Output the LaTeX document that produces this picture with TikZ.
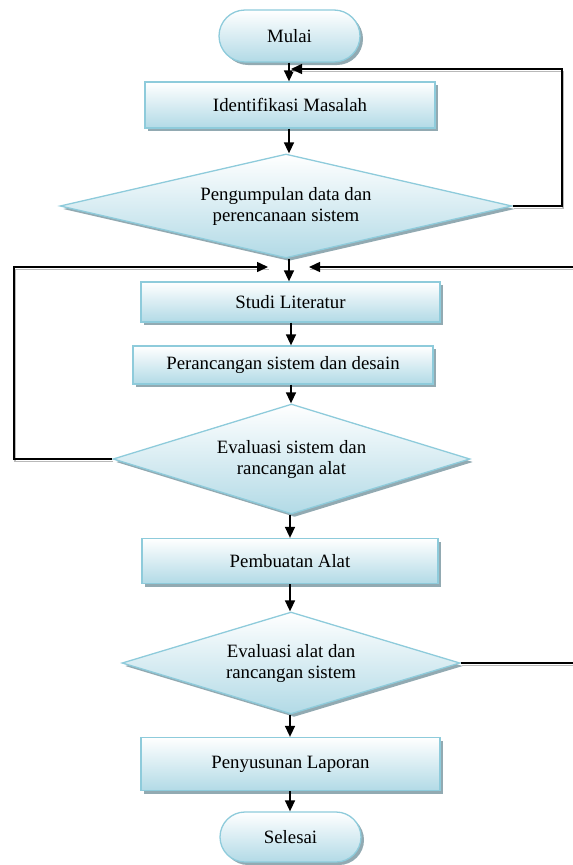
\documentclass[tikz,border=0pt]{standalone}
\usepackage{fontspec}
\setmainfont{Liberation Serif}
\usetikzlibrary{shapes.geometric,shapes.misc,shadows,arrows.meta}
\definecolor{bordc}{HTML}{8ECBDB}
\definecolor{fillb}{HTML}{B2DAE6}
\definecolor{shadc}{HTML}{92AAB2}
\tikzset{
  base/.style={draw=bordc, line width=1.3pt, top color=white, bottom color=fillb,
    font=\fontsize{18.8}{21}\selectfont, align=center, inner sep=0pt,
    general shadow={fill=shadc, shadow xshift=3pt, shadow yshift=-3pt}},
  procbox/.style={base, rectangle},
  termbox/.style={base, rounded rectangle},
  decbox/.style={base, diamond},
  arr/.style={-{Triangle[length=11pt,width=10pt]}, line width=1.5pt, black},
  fb/.style={arr, preaction={draw=gray!55, line width=1.5pt, -, transform canvas={xshift=1pt,yshift=-2.5pt}}}
}
\begin{document}
\begin{tikzpicture}[x=1pt,y=-1pt]
\useasboundingbox (0,0) rectangle (573,865);
\node[termbox, minimum width=141pt, minimum height=52pt] (mulai) at (289.5,36) {Mulai};
\node[procbox, minimum width=290pt, minimum height=46pt] (iden) at (290,105) {Identifikasi Masalah};
\node[decbox, aspect=4.35, minimum width=452pt, minimum height=104pt] (d1) at (286,206) {Pengumpulan data dan\\perencanaan sistem};
\node[procbox, minimum width=299pt, minimum height=40pt] (studi) at (290.5,302) {Studi Literatur};
\node[procbox, minimum width=300pt, minimum height=38pt] (peran) at (283,365) {Perancangan sistem dan desain};
\node[decbox, aspect=3.25, minimum width=357pt, minimum height=110pt] (d2) at (291.5,459) {Evaluasi sistem dan\\rancangan alat};
\node[procbox, minimum width=296pt, minimum height=45pt] (buat) at (290,561) {Pembuatan Alat};
\node[decbox, aspect=3.31, minimum width=338pt, minimum height=102pt] (d3) at (291,663) {Evaluasi alat dan\\rancangan sistem};
\node[procbox, minimum width=299pt, minimum height=53pt] (lap) at (290.5,764) {Penyusunan Laporan};
\node[termbox, minimum width=141pt, minimum height=50pt] (selesai) at (290.5,837) {Selesai};

\draw[arr] (mulai.south -| 289,0) -- (iden.north -| 289,0);
\draw[arr] (iden.south -| 289,0) -- (d1.north -| 289,0);
\draw[arr] (289,259) -- (studi.north -| 289,0);
\draw[arr] (studi.south -| 291,0) -- (peran.north -| 291,0);
\draw[arr] (peran.south -| 291,0) -- (d2.north -| 291,0);
\draw[arr] (d2.south -| 290,0) -- (buat.north -| 290,0);
\draw[arr] (buat.south -| 290,0) -- (d3.north -| 290,0);
\draw[arr] (d3.south -| 290,0) -- (lap.north -| 290,0);
\draw[arr] (lap.south -| 290,0) -- (selesai.north -| 290,0);

\coordinate (r1) at (562,69);
\coordinate (j1) at (291,69);
\draw[fb] (d1.east) -| (r1) -- (j1);
\coordinate (l1) at (14,267);
\coordinate (j2) at (268,267);
\draw[fb] (d2.west) -| (l1) -- (j2);
\coordinate (r2) at (577,267);
\coordinate (j3) at (309,267);
\draw[fb] (d3.east) -| (r2) -- (j3);
\end{tikzpicture}
\end{document}
